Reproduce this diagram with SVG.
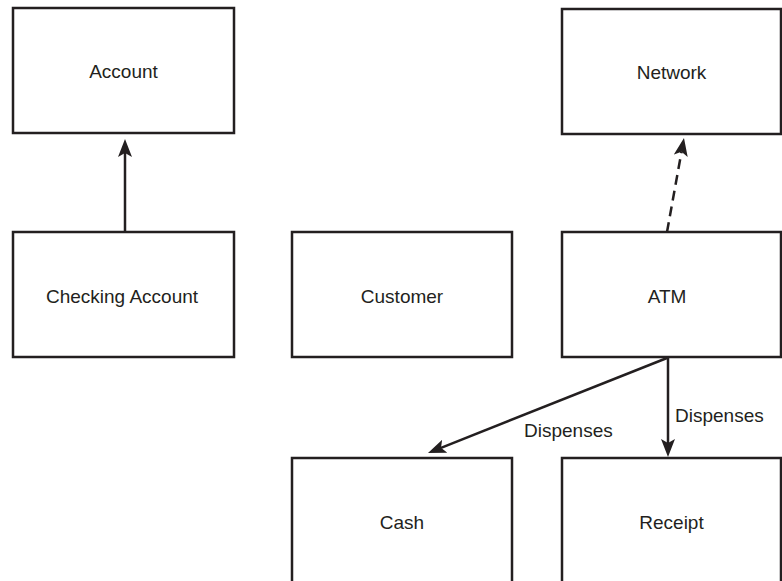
<svg xmlns="http://www.w3.org/2000/svg" width="782" height="581" viewBox="0 0 782 581">
<style>
.box{fill:#fff;stroke:#231f20;stroke-width:2.5}
.lbl{font-family:"Liberation Sans",Arial,Helvetica,sans-serif;font-size:19px;fill:#231f20;text-anchor:middle}
.elbl{font-family:"Liberation Sans",Arial,Helvetica,sans-serif;font-size:19px;fill:#231f20}
.edge{fill:none;stroke:#231f20;stroke-width:2.5}
.dash{stroke-dasharray:10 6}
</style>
<defs>
<marker id="ah" viewBox="0 0 18 14" refX="4" refY="7" markerWidth="18" markerHeight="14" markerUnits="userSpaceOnUse" orient="auto">
<path d="M0,0 L18,7 L0,14 L4,7 Z" fill="#231f20"/>
</marker>
</defs>
<g id="account"><rect class="box" x="13" y="8" width="221" height="125"/><text class="lbl" x="123.5" y="77.5">Account</text></g>
<g id="checking-account"><rect class="box" x="13" y="232" width="221" height="125"/><text class="lbl" x="122" y="302.5">Checking Account</text></g>
<g id="customer"><rect class="box" x="292" y="232" width="220" height="125"/><text class="lbl" x="402" y="302.5">Customer</text></g>
<g id="network"><rect class="box" x="562" y="9" width="219" height="125"/><text class="lbl" x="671.5" y="79">Network</text></g>
<g id="atm"><rect class="box" x="562" y="232" width="219" height="125"/><text class="lbl" x="667" y="302.5">ATM</text></g>
<g id="cash"><rect class="box" x="292" y="458" width="220" height="130"/><text class="lbl" x="402" y="528.5">Cash</text></g>
<g id="receipt"><rect class="box" x="562" y="458" width="219" height="130"/><text class="lbl" x="671.5" y="529">Receipt</text></g>
<g id="connectors">
<path class="edge" d="M125,232 L125,153" marker-end="url(#ah)"/>
<path class="edge dash" d="M667,232 L681.5,151.8" marker-end="url(#ah)"/>
<path class="edge" d="M667,358 L441,447.8" marker-end="url(#ah)"/>
<path class="edge" d="M668,358 L668,443" marker-end="url(#ah)"/>
<text class="elbl" x="524" y="437">Dispenses</text>
<text class="elbl" x="675" y="421.5">Dispenses</text>
</g>
</svg>
